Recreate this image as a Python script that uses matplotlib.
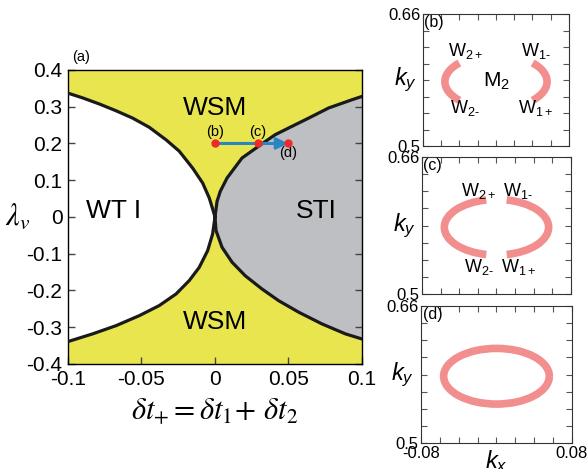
import numpy as np
import matplotlib
matplotlib.use('Agg')
import matplotlib.pyplot as plt
from matplotlib.patches import Arc

plt.rcParams['font.family'] = ['Liberation Sans', 'DejaVu Sans']
plt.rcParams['axes.unicode_minus'] = False
plt.rcParams['mathtext.fontset'] = 'custom'
plt.rcParams['mathtext.rm'] = 'Liberation Sans'
plt.rcParams['mathtext.it'] = 'Liberation Sans:italic'

# phase boundaries: (delta t+, lambda_v)
up_left_dt = [0, -0.0011, -0.0039, -0.0084, -0.0152, -0.0243, -0.0333, -0.0447,
              -0.056, -0.0673, -0.0787, -0.09, -0.1]
up_left_lam = [0, 0.0154, 0.0517, 0.0925, 0.133, 0.179, 0.210, 0.244,
               0.269, 0.289, 0.3075, 0.324, 0.337]
up_right_dt = [0, 0.0014, 0.0036, 0.0082, 0.0184, 0.0331, 0.041, 0.0524,
               0.0637, 0.0773, 0.0932, 0.1]
up_right_lam = [0, 0.0426, 0.0698, 0.106, 0.1605, 0.2023, 0.224, 0.2467,
                0.269, 0.2966, 0.319, 0.328]
lo_left_dt = [0, -0.0016, -0.005, -0.0107, -0.0175, -0.0265, -0.0379, -0.0515,
              -0.0673, -0.0832, -0.1]
lo_left_lam = [0, -0.046, -0.0916, -0.137, -0.173, -0.2095, -0.241, -0.2685,
               -0.2957, -0.318, -0.339]
lo_right_dt = [0, 0.0007, 0.0048, 0.0116, 0.0206, 0.032, 0.0433, 0.0569,
               0.0728, 0.0887, 0.1]
lo_right_lam = [0, -0.037, -0.0825, -0.123, -0.16, -0.196, -0.2277, -0.259,
                -0.291, -0.318, -0.332]

# points (b), (c), (d) on the path
path_dt = [0, 0.029, 0.0497]
path_lam = [0.2, 0.2, 0.2]
path_names = ['(b)', '(c)', '(d)']

xticks_a = [-0.1, -0.05, 0, 0.05, 0.1]
xlabels_a = ['-0.1', '-0.05', '0', '0.05', '0.1']
yticks_a = [-0.4, -0.3, -0.2, -0.1, 0, 0.1, 0.2, 0.3, 0.4]
ylabels_a = ['-0.4', '-0.3', '-0.2', '-0.1', '0', '0.1', '0.2', '0.3', '0.4']

# Fermi arcs in (b)-(d): ellipse centre, size, and where the arcs end
ell_center = (0.0, 0.578)
ell_a = 0.056
ell_b = 0.0325
arc_end = {'b': (0.0417, 0.0235), 'c': (0.011, 0.032), 'd': None}

yellow = '#e8e54e'
grey = '#bebfc3'
arc_col = '#f07a7a'

fig = plt.figure(figsize=(5.87, 4.69), dpi=100)

# ---- panel (a)
ax = fig.add_axes([0.1158, 0.2239, 0.5009, 0.6269])
ax.set_facecolor(yellow)
ax.fill(list(up_left_dt) + list(lo_left_dt[::-1]),
        list(up_left_lam) + list(lo_left_lam[::-1]), color='white', lw=0)
ax.fill(list(up_right_dt) + list(lo_right_dt[::-1]),
        list(up_right_lam) + list(lo_right_lam[::-1]), color=grey, lw=0)
for xs, ys in [(up_left_dt, up_left_lam), (up_right_dt, up_right_lam),
               (lo_left_dt, lo_left_lam), (lo_right_dt, lo_right_lam)]:
    ax.plot(xs, ys, color='#1a1a1a', lw=2.3, solid_joinstyle='round', zorder=3)

ax.annotate('', xy=(path_dt[-1], path_lam[-1]), xytext=(path_dt[0], path_lam[0]),
            arrowprops=dict(arrowstyle='-|>', color='#2a86c2', lw=2.2,
                            mutation_scale=17, shrinkA=0, shrinkB=0), zorder=4)
ax.plot(path_dt, path_lam, 'o', color='#ee2a2a', ms=5, zorder=5)
ax.text(path_dt[0], path_lam[0] + 0.012, path_names[0], ha='center', va='bottom', fontsize=10.5)
ax.text(path_dt[1], path_lam[1] + 0.012, path_names[1], ha='center', va='bottom', fontsize=10.5)
ax.text(path_dt[2], path_lam[2] - 0.008, path_names[2], ha='center', va='top', fontsize=10.5)

ax.text(0.0, 0.297, 'WSM', ha='center', va='center', fontsize=19)
ax.text(0.0, -0.285, 'WSM', ha='center', va='center', fontsize=19)
ax.text(-0.0687, 0.015, 'WT I', ha='center', va='center', fontsize=19)
ax.text(0.069, 0.017, 'STI', ha='center', va='center', fontsize=19)
ax.text(-0.097, 0.415, '(a)', ha='left', va='bottom', fontsize=10.5)

ax.set_xlim(-0.1, 0.1)
ax.set_ylim(-0.4, 0.4)
ax.set_xticks(xticks_a)
ax.set_xticklabels(xlabels_a)
ax.set_yticks(yticks_a)
ax.set_yticklabels(ylabels_a)
ax.tick_params(direction='in', length=5, width=1, color='#444444',
               labelsize=15, right=True, pad=4)
ax.set_xlabel(r'$\delta t_{+} = \delta t_{1}\!+\,\delta t_{2}$', fontsize=22,
              math_fontfamily='stix', labelpad=6)
ax.set_ylabel(r'$\lambda_{v}$', fontsize=22, rotation=0, math_fontfamily='stix',
              va='center')
ax.yaxis.set_label_coords(-0.17, 0.5)
for s in ax.spines.values():
    s.set_linewidth(1.0)

# ---- panels (b), (c), (d)
boxes = {'b': [0.7206, 0.6887, 0.2487, 0.2814],
         'c': [0.7189, 0.3731, 0.2538, 0.2921],
         'd': [0.7172, 0.0554, 0.2572, 0.2921]}

for key in ['b', 'c', 'd']:
    bx = fig.add_axes(boxes[key])
    bx.set_xlim(-0.08, 0.08)
    bx.set_ylim(0.5, 0.66)
    end = arc_end[key]
    if end is None:
        spans = [(0, 360)]
    else:
        t = np.degrees(np.arctan2(end[1], end[0]))
        spans = [(-t, t), (180 - t, 180 + t)]
    for th1, th2 in spans:
        bx.add_patch(Arc(ell_center, 2 * ell_a, 2 * ell_b, theta1=th1, theta2=th2,
                         color=arc_col, lw=5.5, alpha=0.85))
    bx.set_xticks(np.arange(-0.08, 0.0801, 0.02))
    bx.set_yticks(np.arange(0.5, 0.6601, 0.02))
    bx.set_xticklabels([])
    ylabs = [''] * 9
    ylabs[0] = '0.5'
    ylabs[-1] = '0.66'
    bx.set_yticklabels(ylabs)
    if key == 'd':
        xlabs = [''] * 9
        xlabs[0] = '-0.08'
        xlabs[-1] = '0.08'
        bx.set_xticklabels(xlabs)
        bx.set_xlabel(r'$k_x$', fontsize=17, labelpad=-9)
    bx.tick_params(direction='in', length=4, width=0.8, color='#555555',
                   labelsize=12, top=True, right=True, pad=2)
    bx.set_ylabel(r'$k_y$', fontsize=17, rotation=0, va='center')
    bx.yaxis.set_label_coords(-0.12, 0.5)
    for s in bx.spines.values():
        s.set_linewidth(0.8)
        s.set_color('#333333')
    bx.text(0.01, 0.99, '(' + key + ')', transform=bx.transAxes,
            ha='left', va='top', fontsize=11.5)
    if key == 'b':
        bx.text(0.29, 0.72, r'W$_{2+}$', transform=bx.transAxes, ha='center', va='center', fontsize=13)
        bx.text(0.77, 0.72, r'W$_{1\text{-}}$', transform=bx.transAxes, ha='center', va='center', fontsize=13)
        bx.text(0.29, 0.29, r'W$_{2\text{-}}$', transform=bx.transAxes, ha='center', va='center', fontsize=13)
        bx.text(0.77, 0.29, r'W$_{1+}$', transform=bx.transAxes, ha='center', va='center', fontsize=13)
        bx.text(0.5, 0.49, r'M$_{2}$', transform=bx.transAxes, ha='center', va='center', fontsize=15)
    if key == 'c':
        bx.text(0.38, 0.755, r'W$_{2+}$', transform=bx.transAxes, ha='center', va='center', fontsize=13)
        bx.text(0.645, 0.755, r'W$_{1\text{-}}$', transform=bx.transAxes, ha='center', va='center', fontsize=13)
        bx.text(0.38, 0.2, r'W$_{2\text{-}}$', transform=bx.transAxes, ha='center', va='center', fontsize=13)
        bx.text(0.645, 0.2, r'W$_{1+}$', transform=bx.transAxes, ha='center', va='center', fontsize=13)

fig.savefig('out.png', dpi=100)
